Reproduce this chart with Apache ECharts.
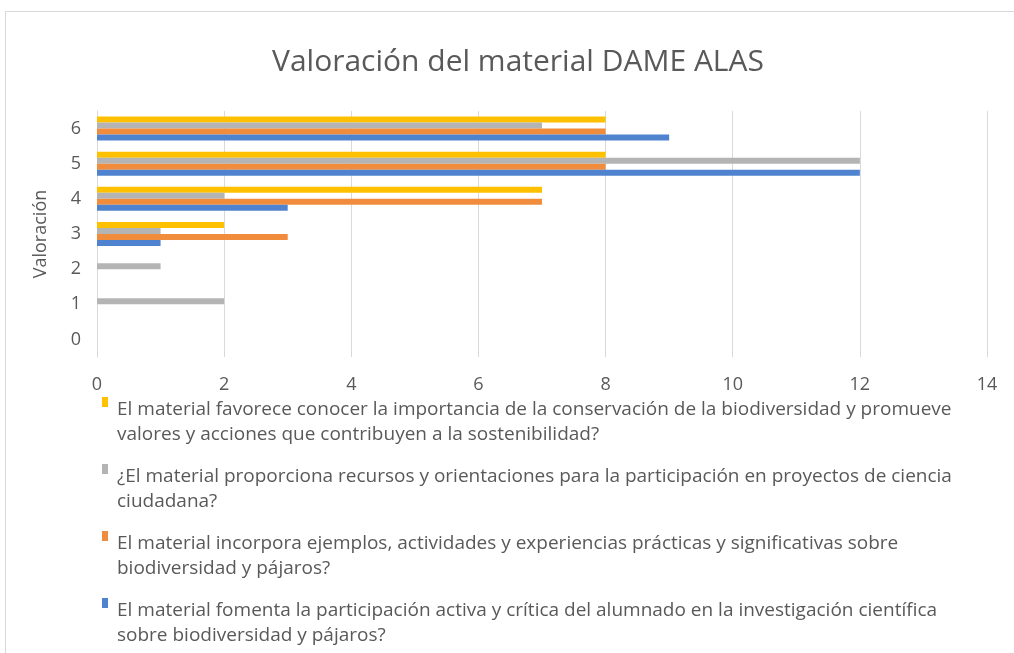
<!DOCTYPE html>
<html>
<head>
<meta charset="utf-8">
<script src="https://cdn.jsdelivr.net/npm/echarts@6/dist/echarts.min.js"></script>
<style>
html,body{margin:0;padding:0;background:#fff;}
#chart{width:1014px;height:653px;}
</style>
</head>
<body>
<div id="chart"></div>
<script>
const categories = ['0', '1', '2', '3', '4', '5', '6'];
const seriesNames = [
  'El material favorece conocer la importancia de la conservación de la biodiversidad y promueve\nvalores y acciones que contribuyen a la sostenibilidad?',
  '¿El material proporciona recursos y orientaciones para la participación en proyectos de ciencia\nciudadana?',
  'El material incorpora ejemplos, actividades y experiencias prácticas y significativas sobre\nbiodiversidad y pájaros?',
  'El material fomenta la participación activa y crítica del alumnado en la investigación científica\nsobre biodiversidad y pájaros?'
];
const yellowValues = [0, 0, 0, 2, 7, 8, 8];
const grayValues   = [0, 2, 1, 1, 2, 12, 7];
const orangeValues = [0, 0, 0, 3, 7, 8, 8];
const blueValues   = [0, 0, 0, 1, 3, 12, 9];
const colors = ['#FFC000', '#B4B4B4', '#F08C3C', '#5083CF'];
const FONT = "'Open Sans', sans-serif";

const allValues = [yellowValues, grayValues, orangeValues, blueValues];
const chart = echarts.init(document.getElementById('chart'), null, {renderer: 'canvas'});
chart.setOption({
  backgroundColor: '#fff',
  animation: false,
  title: {
    text: 'Valoración del material DAME ALAS',
    left: 272,
    top: 47,
    padding: 0,
    textStyle: {fontFamily: FONT, fontSize: 30, fontWeight: 'normal', color: '#595959'}
  },
  grid: {left: 97, right: 27, top: 111, bottom: 296, containLabel: false},
  xAxis: {
    type: 'value', min: 0, max: 14, interval: 2,
    axisLine: {show: false}, axisTick: {show: false},
    splitLine: {lineStyle: {color: '#D9D9D9', width: 1}},
    axisLabel: {fontFamily: FONT, fontSize: 18, color: '#595959', margin: 19}
  },
  yAxis: {
    type: 'category', data: categories,
    name: 'Valoración', nameLocation: 'middle', nameGap: 47, nameRotate: 90,
    nameTextStyle: {fontFamily: FONT, fontSize: 18, color: '#595959'},
    axisLine: {show: true, lineStyle: {color: '#D9D9D9'}},
    axisTick: {show: false},
    axisLabel: {fontFamily: FONT, fontSize: 18, color: '#595959', margin: 16, padding: [6, 0, 0, 0]}
  },
  legend: {
    orient: 'vertical', left: 102, top: 397, itemGap: 17, padding: 0,
    height: 256,
    itemWidth: 6, itemHeight: 50,
    data: seriesNames.map((n, i) => ({name: n, icon: 'path://M0,0h6v10h-6zM0,50'})),
    textStyle: {fontFamily: FONT, fontSize: 19, color: '#595959', lineHeight: 25, padding: [0, 0, 0, 4]},
    itemStyle: {borderWidth: 0}
  },
  series: seriesNames.map((n, i) => ({
    name: n, type: 'bar', data: allValues[i],
    barWidth: 6, barGap: '0%',
    itemStyle: {color: colors[i]}
  })),
  graphic: [
    {type: 'line', shape: {x1: 5, y1: 11.5, x2: 1014, y2: 11.5}, style: {stroke: '#D9D9D9', lineWidth: 1}, silent: true},
    {type: 'line', shape: {x1: 5.5, y1: 11, x2: 5.5, y2: 653}, style: {stroke: '#D9D9D9', lineWidth: 1}, silent: true}
  ]
});
</script>
</body>
</html>
